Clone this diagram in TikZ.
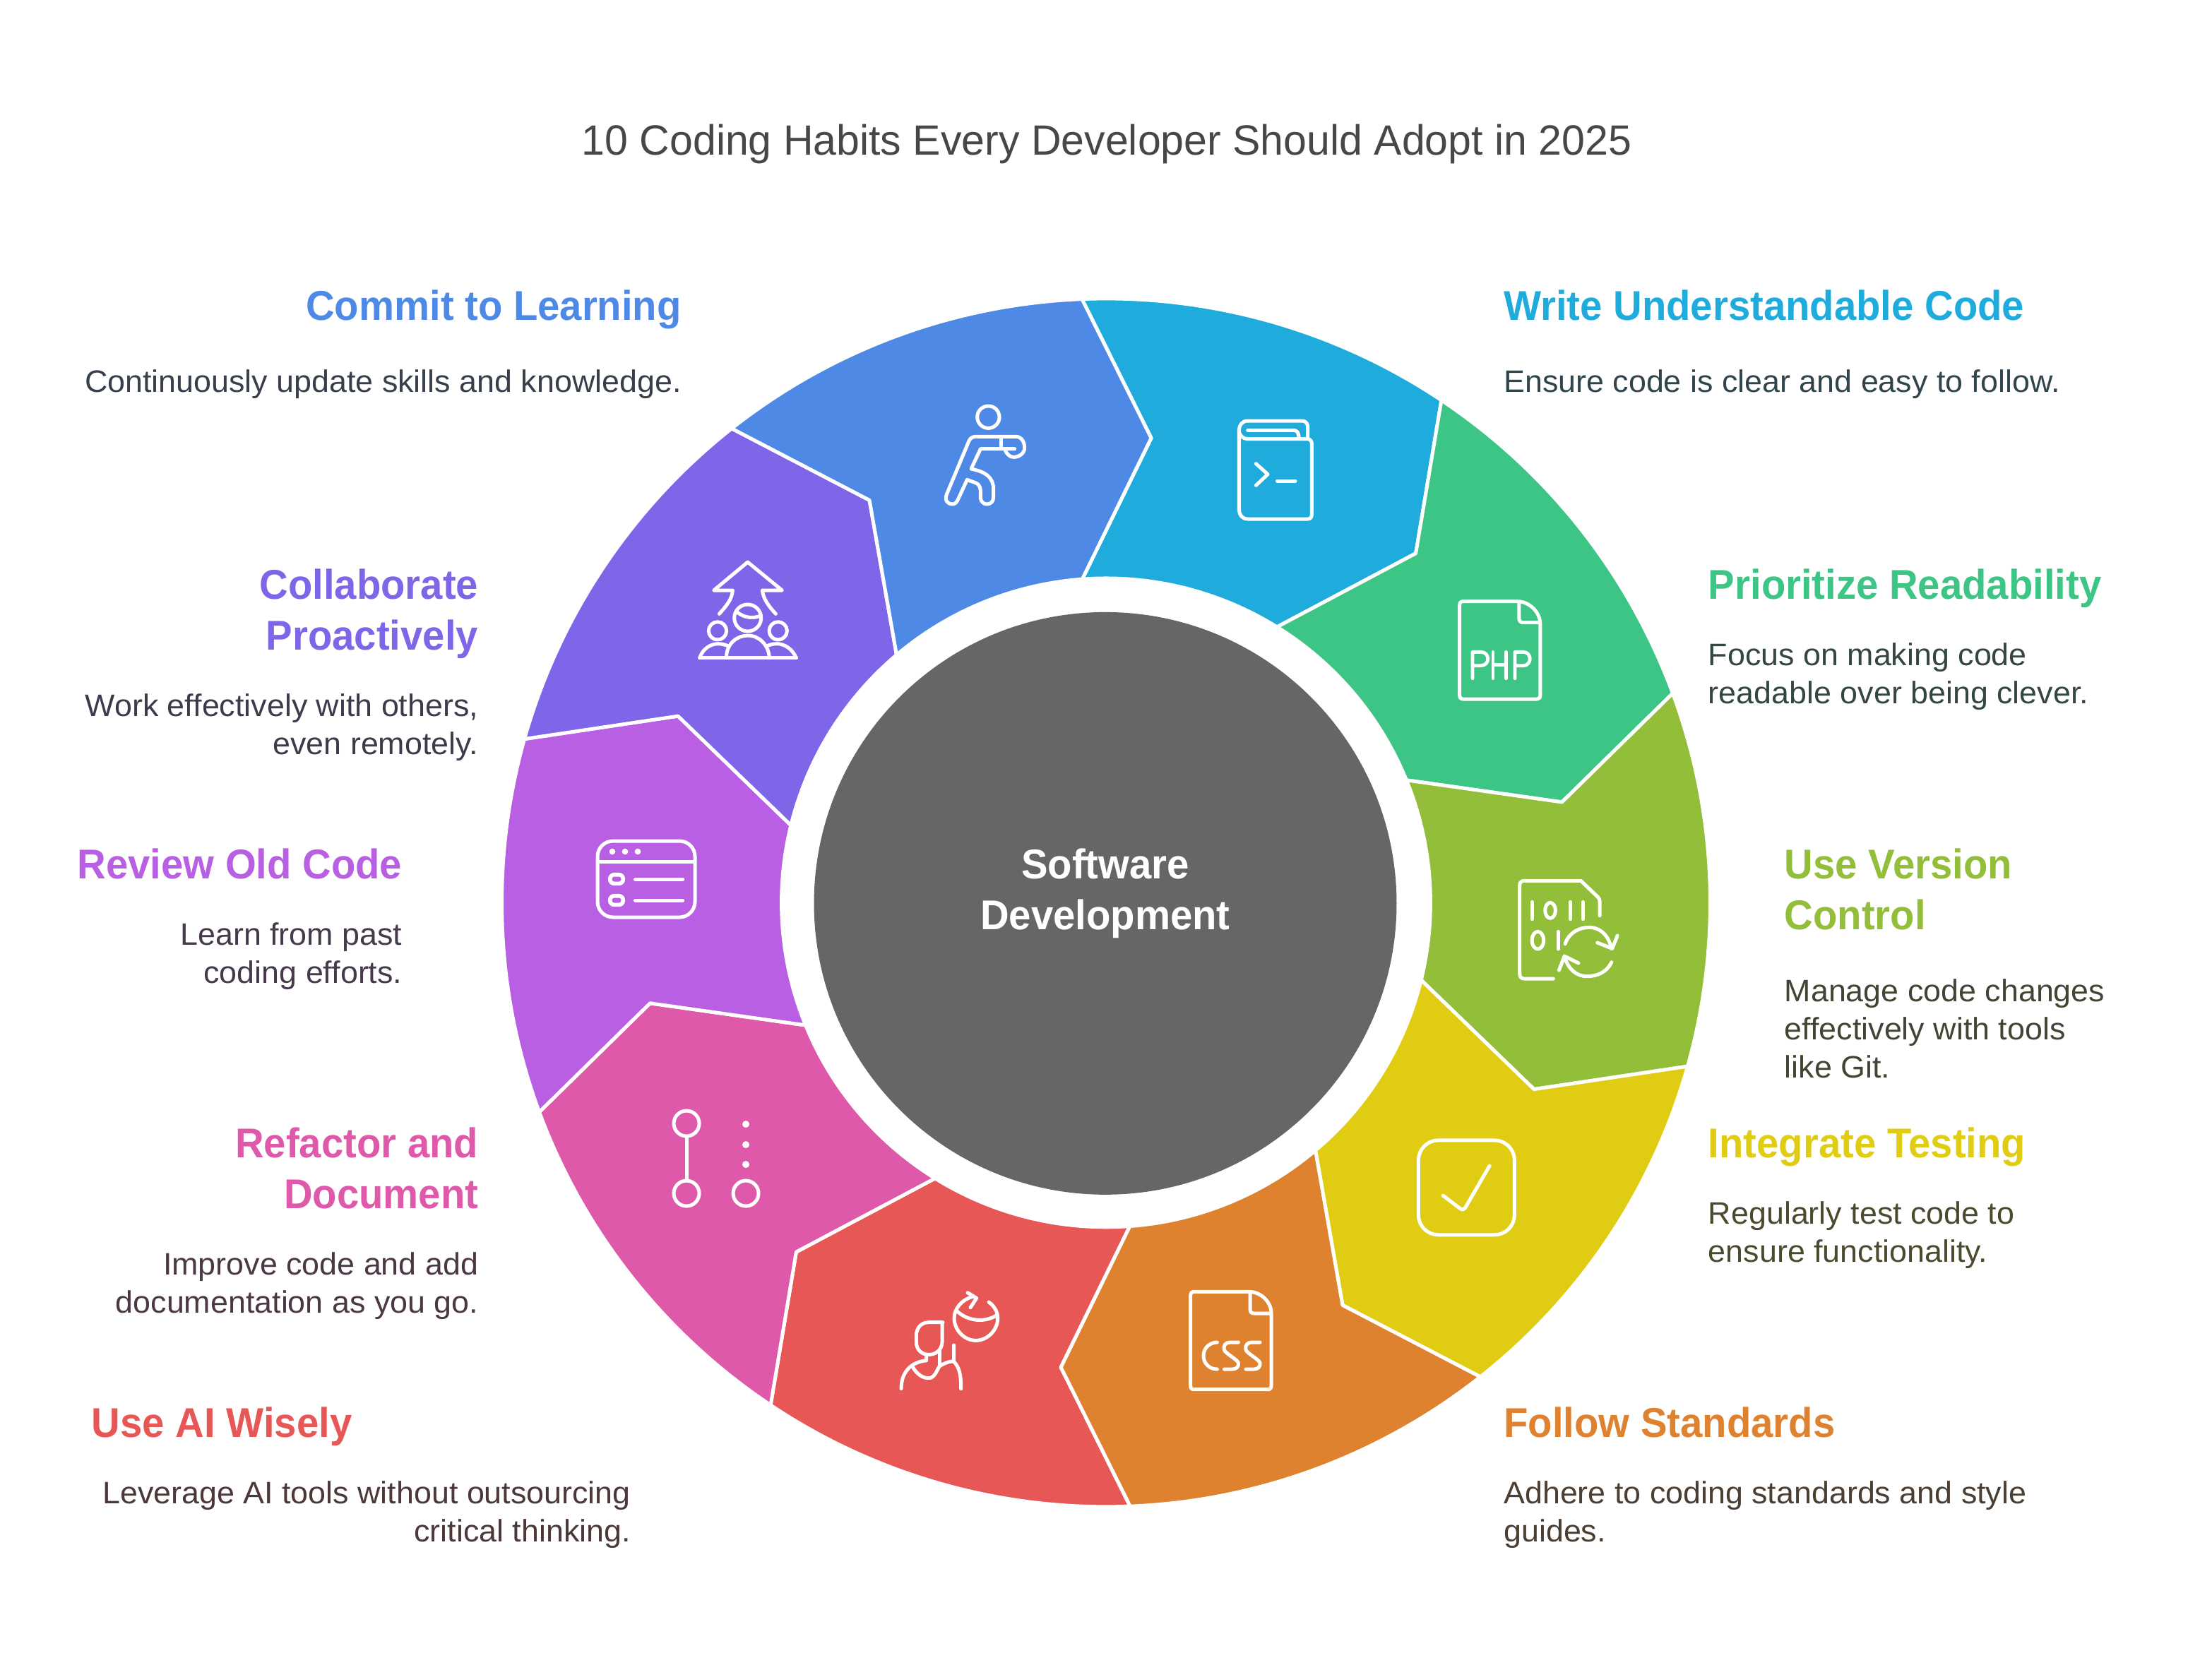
\documentclass[tikz,border=0pt]{standalone}
\usepackage{fontspec}
\setmainfont{Liberation Sans}[FakeStretch=1.02,BoldFeatures={FakeStretch=0.955}]
\newfontfamily\titlefont{Liberation Sans}[FakeStretch=0.985]
\definecolor{c0}{HTML}{1FACDC}
\definecolor{c1}{HTML}{3DC585}
\definecolor{c2}{HTML}{93BE39}
\definecolor{c3}{HTML}{E0CD13}
\definecolor{c4}{HTML}{DE8230}
\definecolor{c5}{HTML}{E65755}
\definecolor{c6}{HTML}{DE59A9}
\definecolor{c7}{HTML}{B85FE3}
\definecolor{c8}{HTML}{7F66E8}
\definecolor{c9}{HTML}{4E8AE5}
\definecolor{ink}{HTML}{333333}
\tikzset{
  hdr/.style={inner sep=0pt,outer sep=0pt,yshift=25.2pt,font=\fontsize{29.5}{36}\selectfont\bfseries,text=#1},
  dsc/.style={inner sep=0pt,outer sep=0pt,yshift=19.9pt,font=\fontsize{22}{27}\selectfont,text=#1!14!ink},
  lft/.style={anchor=north west,align=left},
  rgt/.style={anchor=north east,align=right},
  iconat/.style 2 args={shift={({#1/1.9974},{#2/1.9974})},x=.1669pt,y=-.1669pt},
  ic/.style={draw=white,line width=2.5pt,line cap=round,line join=round},
  ict/.style={ic,line width=2.4pt},
  dotw/.style={fill=white,draw=none}
}
\begin{document}
\begin{tikzpicture}[x=1pt,y=-1pt]
\useasboundingbox (0,0) rectangle (1568,1171.5);
% wheel
\begin{scope}[shift={(784,640)}]
\foreach \i/\c in {0/c0,1/c1,2/c2,3/c3,4/c4,5/c5,6/c6,7/c7,8/c8,9/c9}{
  \pgfmathsetmacro{\oa}{-92.28+36*\i}
  \pgfmathsetmacro{\ob}{-92.28+36*(\i+1)}
  \pgfmathsetmacro{\ma}{-84.44+36*\i}
  \pgfmathsetmacro{\mb}{-84.44+36*(\i+1)}
  \pgfmathsetmacro{\na}{-94.2+36*\i}
  \pgfmathsetmacro{\nb}{-94.2+36*(\i+1)}
  \path[fill=\c,draw=white,line width=2.5pt,line join=round]
    (\oa:428.3) arc[start angle=\oa,end angle=\ob,radius=428.3]
    -- (\mb:331) -- (\nb:230)
    arc[start angle=\nb,end angle=\na,radius=230]
    -- (\ma:331) -- cycle;
}
\end{scope}
\node[circle,fill=black!60,draw=none,minimum size=413pt,inner sep=0pt] (hub) at (783.5,640.5) {};
\node[inner sep=0pt,align=center,text=white,font=\fontsize{29.5}{36}\selectfont\bfseries] (hubtext) at (783.5,633.5) {Software\\Development};
% title
\node[inner sep=0pt,text=black!72,font=\fontsize{30}{36}\selectfont\titlefont] (title) at (784.5,102) {10 Coding Habits Every Developer Should Adopt in 2025};
% right labels
\node[lft,hdr=c0] (h0) at (1066,227) {\strut Write Understandable Code};
\node[lft,dsc=c0] (d0) at (1066,279) {\strut Ensure code is clear and easy to follow.};
\node[lft,hdr=c1] (h1) at (1211,425) {\strut Prioritize Readability};
\node[lft,dsc=c1] (d1) at (1211,473) {\strut Focus on making code\\readable over being clever.};
\node[lft,hdr=c2] (h2) at (1265,623) {\strut Use Version\\Control};
\node[lft,dsc=c2] (d2) at (1265,711) {\strut Manage code changes\\effectively with tools\\like Git.};
\node[lft,hdr=c3] (h3) at (1211,821) {\strut Integrate Testing};
\node[lft,dsc=c3] (d3) at (1211,869) {\strut Regularly test code to\\ensure functionality.};
\node[lft,hdr=c4] (h4) at (1066,1019) {\strut Follow Standards};
\node[lft,dsc=c4] (d4) at (1066,1067) {\strut Adhere to coding standards and style\\guides.};
% left labels
\node[lft,hdr=c5] (h5) at (65,1019) {\strut Use AI Wisely};
\node[rgt,dsc=c5] (d5) at (447,1067) {\strut Leverage AI tools without outsourcing\\critical thinking.};
\node[rgt,hdr=c6] (h6) at (339,821) {\strut Refactor and\\Document};
\node[rgt,dsc=c6] (d6) at (339,905) {\strut Improve code and add\\documentation as you go.};
\node[rgt,hdr=c7] (h7) at (285,623) {\strut Review Old Code};
\node[rgt,dsc=c7] (d7) at (285,671) {\strut Learn from past\\coding efforts.};
\node[rgt,hdr=c8] (h8) at (339,425) {\strut Collaborate\\Proactively};
\node[rgt,dsc=c8] (d8) at (339,509) {\strut Work effectively with others,\\even remotely.};
\node[rgt,hdr=c9] (h9) at (483,227) {\strut Commit to Learning};
\node[rgt,dsc=c9] (d9) at (483,279) {\strut Continuously update skills and knowledge.};
% icon: runner
\begin{scope}[iconat={1320}{560}]
  \draw[ic] (238,92) circle[radius=47];
  \draw[ic] (350,227) -- (205,227) -- (165,312) .. controls (230,325) and (260,350) .. (260,400) -- (260,432)
    .. controls (260,450) and (248,462) .. (232,462) .. controls (220,462) and (205,452) .. (205,435) -- (205,420)
    .. controls (205,395) and (205,378) .. (180,370) -- (148,358) -- (110,440) .. controls (105,452) and (98,462) .. (85,462)
    .. controls (65,462) and (50,445) .. (62,418) -- (155,195) .. controls (160,182) and (170,175) .. (185,175)
    -- (355,175) .. controls (380,175) and (392,200) .. (392,222) .. controls (392,245) and (370,262) .. (345,262)
    .. controls (330,262) and (315,250) .. (308,228);
  \draw[ic,line cap=butt] (292,178) -- (292,224);
\end{scope}
% icon: book
\begin{scope}[iconat={1740}{580}]
  \draw[ic] (335,120) -- (335,75) .. controls (335,58) and (325,48) .. (310,48) -- (80,48)
    .. controls (55,48) and (43,68) .. (43,88) .. controls (43,110) and (60,125) .. (80,125) -- (335,125)
    .. controls (345,125) and (352,135) .. (352,145) -- (352,445) .. controls (352,458) and (345,465) .. (335,465) -- (80,465)
    .. controls (55,465) and (43,445) .. (43,425) -- (43,88);
  \draw[ic] (80,88) -- (275,88) .. controls (290,88) and (297,100) .. (297,120);
  \draw[ic] (115,230) -- (165,275) -- (115,322);
  \draw[ic] (205,303) -- (282,303);
\end{scope}
% icon: php file
\begin{scope}[iconat={2050}{840}]
  \draw[ic] (295,35) -- (65,35) .. controls (55,35) and (50,40) .. (50,50) -- (50,435) .. controls (50,445) and (55,450) .. (65,450)
    -- (378,450) .. controls (387,450) and (392,445) .. (392,435) -- (392,130) .. controls (392,80) and (345,35) .. (295,35);
  \draw[ic] (302,40) -- (302,105) .. controls (302,118) and (308,125) .. (320,125) -- (390,125);
  \draw[ict] (105,362) -- (105,250) -- (140,250) .. controls (180,250) and (180,308) .. (140,308) -- (105,308);
  \draw[ict] (192,250) -- (192,362) (247,250) -- (247,362) (192,305) -- (247,305);
  \draw[ict] (285,362) -- (285,250) -- (320,250) .. controls (358,250) and (358,308) .. (320,308) -- (285,308);
\end{scope}
% icon: binary file
\begin{scope}[iconat={2130}{1230}]
  \draw[ic] (208,468) -- (85,468) .. controls (72,468) and (65,460) .. (65,448) -- (65,70) .. controls (65,60) and (72,52) .. (85,52)
    -- (325,52) -- (398,122) .. controls (403,128) and (405,132) .. (405,140) -- (405,200);
  \draw[ic] (117,142) -- (117,215) (280,142) -- (280,215) (333,142) -- (333,215) (228,268) -- (228,342);
  \draw[ic] (195,178) ellipse[x radius=22,y radius=33];
  \draw[ic] (142,305) ellipse[x radius=25,y radius=37];
  \draw[ic] (258,320) .. controls (275,270) and (320,250) .. (360,250) .. controls (400,250) and (440,275) .. (455,340);
  \draw[ic] (395,315) -- (458,340) -- (480,285);
  \draw[ic] (455,398) .. controls (435,440) and (395,458) .. (350,458) .. controls (310,458) and (270,430) .. (255,372);
  \draw[ic] (232,432) -- (255,372) -- (315,402);
\end{scope}
% icon: check box
\draw[ic,rounded corners=14pt] (1005.5,808.5) rectangle (1073.5,875.5);
\begin{scope}[iconat={2000}{1610}]
  \draw[ic] (129,249) -- (204,306) .. controls (210,310) and (216,310) .. (222,304) -- (327,123);
\end{scope}
% icon: css file
\begin{scope}[iconat={1670}{1815}]
  \draw[ic] (295,43) -- (62,43) .. controls (52,43) and (47,48) .. (47,58) -- (47,443) .. controls (47,453) and (52,458) .. (62,458)
    -- (375,458) .. controls (385,458) and (390,453) .. (390,443) -- (390,135) .. controls (390,85) and (345,43) .. (295,43);
  \draw[ic] (300,48) -- (300,118) .. controls (300,130) and (306,135) .. (318,135) -- (388,135);
  \draw[ic] (160,258) .. controls (125,258) and (102,285) .. (102,315) .. controls (102,345) and (125,372) .. (160,372);
  \draw[ic] (250,258) -- (215,258) .. controls (195,258) and (185,272) .. (190,290) .. controls (195,305) and (245,330) .. (250,345) .. controls (253,362) and (240,372) .. (225,372) -- (190,372);
  \draw[ic] (342,258) -- (307,258) .. controls (287,258) and (277,272) .. (282,290) .. controls (287,305) and (337,330) .. (342,345) .. controls (345,362) and (332,372) .. (317,372) -- (282,372);
\end{scope}
% icon: person with globe
\begin{scope}[iconat={1280}{1800}]
  \draw[ic] (165,218) -- (105,218) .. controls (70,218) and (52,245) .. (52,275) -- (52,300) .. controls (52,335) and (75,355) .. (105,355) .. controls (135,355) and (162,335) .. (162,300) -- (162,225);
  \draw[ic] (95,358) -- (95,380) .. controls (40,385) and (-12,420) .. (-12,500);
  \draw[ic] (150,340) -- (150,400);
  \draw[ic] (212,315) -- (212,385);
  \draw[ic] (35,405) .. controls (55,440) and (80,455) .. (105,455) .. controls (130,455) and (140,420) .. (150,405) .. controls (165,395) and (195,380) .. (212,385) .. controls (235,410) and (242,440) .. (242,500);
  \draw[ic] (360,132) .. controls (385,150) and (398,175) .. (398,200) .. controls (398,250) and (355,295) .. (305,295) .. controls (255,295) and (213,250) .. (213,200) .. controls (213,160) and (245,120) .. (295,108);
  \draw[ic] (270,92) -- (308,115) -- (282,155);
  \draw[ic] (225,170) .. controls (260,205) and (330,225) .. (390,190);
\end{scope}
% icon: branch
\begin{scope}[x=.50065pt,y=-.50065pt]
  \draw[ic] (972,1591) circle[radius=18];
  \draw[ic] (972,1690) circle[radius=18];
  \draw[ic] (1056,1690) circle[radius=18];
  \draw[ic,line cap=butt] (972,1609) -- (972,1672);
  \fill[dotw] (1056,1592) circle[radius=5];
  \fill[dotw] (1056,1621) circle[radius=5];
  \fill[dotw] (1056,1649) circle[radius=5];
\end{scope}
% icon: window
\begin{scope}[iconat={830}{1175}]
  \draw[ic,rounded corners=11pt] (48,48) rectangle (462,372);
  \draw[ic,line cap=butt] (48,137) -- (462,137);
  \fill[dotw] (111,93) circle[radius=13];
  \fill[dotw] (165,93) circle[radius=13];
  \fill[dotw] (219,93) circle[radius=13];
  \draw[ic,line width=2.8pt,rounded corners=3pt] (101,191) rectangle (157,229);
  \draw[ic,line width=2.8pt,rounded corners=3pt] (101,281) rectangle (157,319);
  \draw[ic] (208,210) -- (410,210);
  \draw[ic] (208,300) -- (410,300);
\end{scope}
% icon: team with arrow
\begin{scope}[iconat={960}{760}]
  \draw[ic] (175,328) .. controls (205,295) and (230,265) .. (232,228) -- (152,228) -- (296,108) -- (442,228) -- (358,228) .. controls (362,265) and (385,295) .. (415,328);
  \draw[ic] (296,345) circle[radius=57];
  \draw[ic] (250,320) .. controls (280,345) and (320,350) .. (352,335);
  \draw[ic] (168,400) circle[radius=38];
  \draw[ic] (425,400) circle[radius=38];
  \draw[ic] (205,515) .. controls (205,455) and (250,420) .. (296,420) .. controls (345,420) and (385,460) .. (388,515);
  \draw[ic] (92,515) -- (502,515);
  \draw[ic] (92,515) .. controls (105,475) and (140,455) .. (170,455) .. controls (190,455) and (200,460) .. (215,465);
  \draw[ic] (502,515) .. controls (485,475) and (450,455) .. (420,455) .. controls (400,455) and (390,460) .. (375,465);
\end{scope}
\end{tikzpicture}
\end{document}
